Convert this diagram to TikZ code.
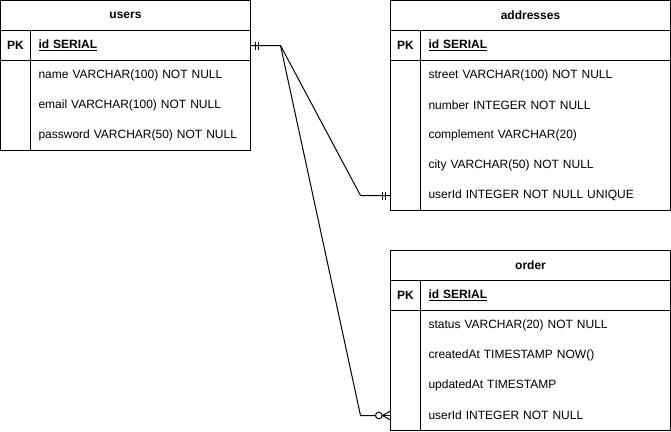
\documentclass[tikz,border=0pt]{standalone}
\usepackage{fontspec}
\setmainfont{Liberation Sans}
\begin{document}
\begin{tikzpicture}[x=1pt,y=-1pt,
  box/.style={draw, line width=1pt, inner sep=0pt, outer sep=0pt},
  hdr/.style={box, font=\fontsize{12}{14}\selectfont\bfseries, minimum height=30pt, anchor=north west},
  keycell/.style={box, font=\fontsize{12}{14}\selectfont\bfseries, minimum width=30pt, minimum height=30pt, anchor=north west},
  pkfield/.style={box, font=\fontsize{12}{14}\selectfont\bfseries, inner xsep=8pt, text width=#1, align=left, minimum height=30pt, anchor=north west},
  keycol/.style={box, minimum width=30pt, minimum height=#1, anchor=north west},
  bodycol/.style={box, minimum width=#1, anchor=north west},
  row/.style={font=\fontsize{12}{14}\selectfont, inner sep=0pt, inner xsep=8pt, outer sep=0pt, text width=#1, align=left, minimum height=30pt, anchor=north west},
  conn/.style={line width=1pt, line join=round}
]
\useasboundingbox (0,0) rectangle (671,431);

% users
\node[hdr, minimum width=250pt] (uh) at (0.5,0.5) {users};
\node[keycell] (upk) at (uh.south west) {PK};
\node[pkfield=204pt] (uid) at (upk.north east) {\underline{id SERIAL}};
\node[keycol=90pt] (ukc) at (upk.south west) {};
\node[bodycol=220pt, minimum height=90pt] (ub) at (ukc.north east) {};
\node[row=204pt] (un) at (ub.north west) {name VARCHAR(100) NOT NULL};
\node[row=204pt] (ue) at (un.south west) {email VARCHAR(100) NOT NULL};
\node[row=204pt] (up) at (ue.south west) {password VARCHAR(50) NOT NULL};

% addresses
\node[hdr, minimum width=280pt] (ah) at (390.5,0.5) {addresses};
\node[keycell] (apk) at (ah.south west) {PK};
\node[pkfield=234pt] (aid) at (apk.north east) {\underline{id SERIAL}};
\node[keycol=150pt] (akc) at (apk.south west) {};
\node[bodycol=250pt, minimum height=150pt] (ab) at (akc.north east) {};
\node[row=234pt] (as) at (ab.north west) {street VARCHAR(100) NOT NULL};
\node[row=234pt] (an) at (as.south west) {number INTEGER NOT NULL};
\node[row=234pt] (acm) at (an.south west) {complement VARCHAR(20)};
\node[row=234pt] (aci) at (acm.south west) {city VARCHAR(50) NOT NULL};
\node[row=234pt] (au) at (aci.south west) {userId INTEGER NOT NULL UNIQUE};
\coordinate (auw) at (akc.west |- au.west);

% order
\node[hdr, minimum width=280pt] (oh) at (390.5,250.5) {order};
\node[keycell] (opk) at (oh.south west) {PK};
\node[pkfield=234pt] (oid) at (opk.north east) {\underline{id SERIAL}};
\node[keycol=120pt] (okc) at (opk.south west) {};
\node[bodycol=250pt, minimum height=120pt] (ob) at (okc.north east) {};
\node[row=234pt] (os) at (ob.north west) {status VARCHAR(20) NOT NULL};
\node[row=234pt] (oc) at (os.south west) {createdAt TIMESTAMP NOW()};
\node[row=234pt] (ou) at (oc.south west) {updatedAt TIMESTAMP};
\node[row=234pt] (oui) at (ou.south west) {userId INTEGER NOT NULL};
\coordinate (ouw) at (okc.west |- oui.west);

% connector users -> addresses (one to one)
\draw[conn] (uid.east) -- ++(30,0) coordinate (ubend) -- ([xshift=-30pt]auw) -- (auw);
\draw[conn] ([xshift=5pt]uid.east) ++(0,-4) -- ++(0,8);
\draw[conn] ([xshift=8pt]uid.east) ++(0,-4) -- ++(0,8);
\draw[conn] ([xshift=-5pt]auw) ++(0,-4) -- ++(0,8);
\draw[conn] ([xshift=-8pt]auw) ++(0,-4) -- ++(0,8);

% connector users -> order (one to zero-or-many)
\draw[conn] (ubend) -- ([xshift=-30pt]ouw) -- ([xshift=-15pt]ouw);
\draw[conn] ([xshift=-8pt]ouw) -- (ouw);
\draw[conn] ([xshift=-8pt]ouw) -- ([yshift=-4.5pt]ouw);
\draw[conn] ([xshift=-8pt]ouw) -- ([yshift=4.5pt]ouw);
\draw[conn, fill=white] ([xshift=-11.7pt]ouw) circle (3.3);
\end{tikzpicture}
\end{document}
